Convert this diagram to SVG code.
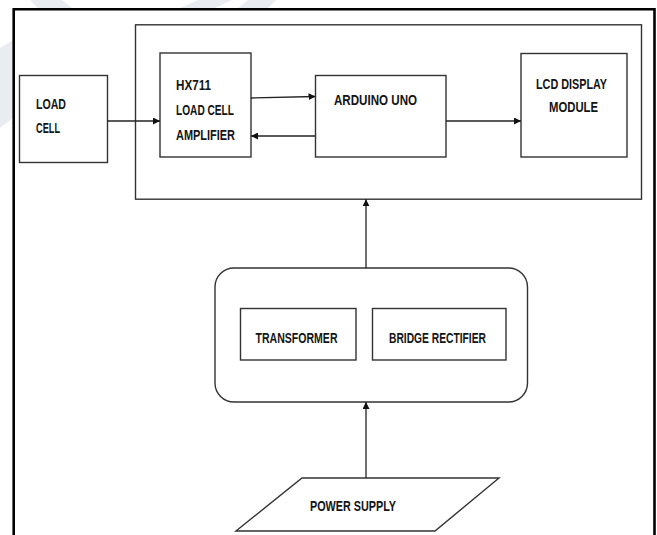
<svg xmlns="http://www.w3.org/2000/svg" width="657" height="535" viewBox="0 0 657 535">
<defs>
<style>
.box{fill:#fff;stroke:#333;stroke-width:1.4}
.lbl{font-family:"Liberation Sans",Arial,sans-serif;font-weight:bold;font-size:15px;fill:#141414}
.wire{fill:none;stroke:#222;stroke-width:1.3}
.wm{fill:#e9ecf0}
</style>
<marker id="ah" viewBox="0 0 10 10" refX="10" refY="5" markerWidth="7" markerHeight="7" orient="auto" markerUnits="userSpaceOnUse">
<path d="M0,0 L10,5 L0,10 z" fill="#111"/>
</marker>
</defs>
<rect width="657" height="535" fill="#fff"/>
<g id="watermark">
<path class="wm" d="M0,48 L13,40 L13,118 L0,128 z"/>
<path class="wm" d="M38,8 L72,8 L62,0 L30,0 z"/>
<path class="wm" d="M180,8 L215,8 L232,0 L198,0 z"/>
<path class="wm" d="M238,8 L268,8 L276,0 L248,0 z"/>
</g>
<g id="frame">
<path d="M13.7,535 L13.7,9.3 L654.5,9.3 L654.5,535" fill="none" stroke="#000" stroke-width="2.6"/>
</g>
<g id="controller">
<rect class="box" x="135.5" y="24.8" width="506" height="174.4"/>
</g>
<g id="load-cell">
<rect class="box" x="19.5" y="75.5" width="88" height="87"/>
<text class="lbl" x="36" y="108.5" textLength="30" lengthAdjust="spacingAndGlyphs">LOAD</text>
<text class="lbl" x="36" y="132.5" textLength="24" lengthAdjust="spacingAndGlyphs">CELL</text>
</g>
<g id="hx711">
<rect class="box" x="160" y="53" width="91" height="104"/>
<text class="lbl" x="176" y="89.5" textLength="35" lengthAdjust="spacingAndGlyphs">HX711</text>
<text class="lbl" x="176" y="114.5" textLength="58" lengthAdjust="spacingAndGlyphs">LOAD CELL</text>
<text class="lbl" x="176" y="139.5" textLength="59" lengthAdjust="spacingAndGlyphs">AMPLIFIER</text>
</g>
<g id="arduino">
<rect class="box" x="315.5" y="75.5" width="130.5" height="81.5"/>
<text class="lbl" x="334" y="104.5" textLength="83" lengthAdjust="spacingAndGlyphs">ARDUINO UNO</text>
</g>
<g id="lcd">
<rect class="box" x="521" y="53.5" width="106" height="103.5"/>
<text class="lbl" x="536" y="88.5" textLength="71" lengthAdjust="spacingAndGlyphs">LCD DISPLAY</text>
<text class="lbl" x="549" y="111.5" textLength="49" lengthAdjust="spacingAndGlyphs">MODULE</text>
</g>
<g id="power-unit">
<rect class="box" x="215" y="268" width="312.5" height="134" rx="19" ry="19"/>
</g>
<g id="transformer">
<rect class="box" x="240.5" y="308.5" width="115.5" height="51.5"/>
<text class="lbl" x="255.5" y="342.5" textLength="82" lengthAdjust="spacingAndGlyphs">TRANSFORMER</text>
</g>
<g id="bridge-rectifier">
<rect class="box" x="372.5" y="308.5" width="133.5" height="51.5"/>
<text class="lbl" x="389" y="342.5" textLength="97" lengthAdjust="spacingAndGlyphs">BRIDGE RECTIFIER</text>
</g>
<g id="power-supply">
<path class="box" d="M302,478 L499,478 L435,531 L236,531 z"/>
<text class="lbl" x="310" y="510.5" textLength="86" lengthAdjust="spacingAndGlyphs">POWER SUPPLY</text>
</g>
<g id="connectors">
<line class="wire" x1="107.5" y1="121" x2="160" y2="121" marker-end="url(#ah)"/>
<line class="wire" x1="251" y1="98" x2="315.5" y2="96.5" marker-end="url(#ah)"/>
<line class="wire" x1="315.5" y1="136" x2="251" y2="136" marker-end="url(#ah)"/>
<line class="wire" x1="446" y1="121" x2="521" y2="121" marker-end="url(#ah)"/>
<line class="wire" x1="366" y1="268" x2="366" y2="199.2" marker-end="url(#ah)"/>
<line class="wire" x1="366" y1="478" x2="366" y2="402" marker-end="url(#ah)"/>
</g>
</svg>
